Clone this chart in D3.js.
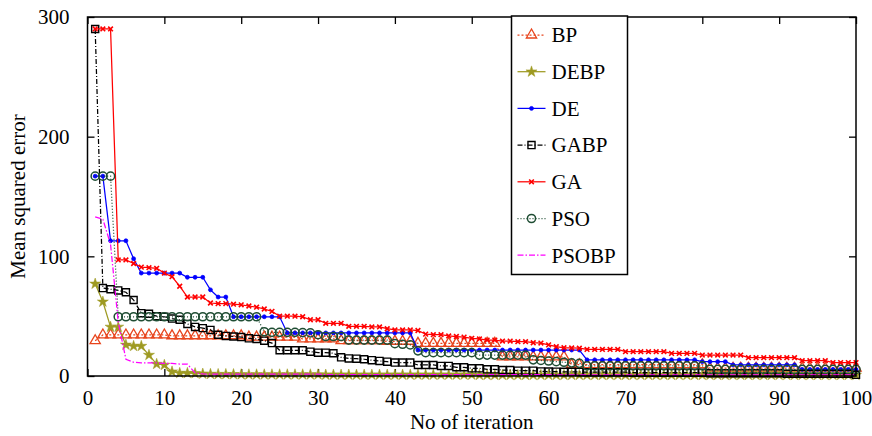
<!DOCTYPE html>
<html>
<head>
<meta charset="utf-8">
<script src="https://cdnjs.cloudflare.com/ajax/libs/d3/7.8.5/d3.min.js"></script>
<style>
    body { margin: 0; background: #fff; }
    text { font-family: "Liberation Serif", "Times New Roman", serif; font-size: 21px; fill: #000; }
</style>
</head>
<body>
<div id="chart"></div>
<script>
// iterations 1..100
var iterations = d3.range(1, 101);

var bpValues = [
    29.5, 34.3, 34.3, 34.3, 34.3, 34.3, 34.3, 34.3, 34.3, 34.3,
    33.6, 33.6, 33.6, 33.6, 33.6, 33.6, 33.6, 33.6, 33.6, 33.6,
    32.5, 32.5, 32.5, 32.5, 32.5, 32.5, 32.5, 31, 31, 31,
    31, 31, 29.5, 29.5, 29.5, 29.5, 29.5, 29.5, 29, 29,
    29, 29, 27.3, 27.3, 27.3, 27.3, 27.3, 27.3, 27.3, 27.3,
    27.3, 27.3, 27.3, 16, 16, 16, 16, 16, 16, 16,
    16, 16, 9.5, 9.5, 9.5, 9.5, 9.5, 9.5, 9.5, 9.5,
    9.5, 9.5, 9.5, 9.5, 9.5, 9.5, 9.5, 9.5, 9.5, 9.5,
    6.5, 6.5, 6.5, 6.5, 6.5, 6.5, 6.5, 6.5, 6.5, 6.5,
    6.5, 6.5, 6.5, 6.5, 6.5, 6.5, 6.5, 6.5, 6.5, 6.5
];

var debpValues = [
    77, 62, 41, 41, 26, 25, 25, 17.5, 10, 9.2,
    3.6, 2.4, 2.4, 2.2, 1.8, 1.6, 1.5, 1.5, 1.4, 1.3,
    1.2, 1.2, 1.2, 1.2, 1.2, 1.2, 1.2, 1.2, 1.2, 1.2,
    1, 1, 1, 1, 1, 1, 1, 1, 1, 1,
    1, 1, 1, 1, 1, 1, 1, 1, 1, 1,
    0.8, 0.8, 0.8, 0.8, 0.8, 0.8, 0.8, 0.8, 0.8, 0.8,
    0.8, 0.8, 0.8, 0.8, 0.8, 0.8, 0.8, 0.8, 0.8, 0.8,
    0.8, 0.8, 0.8, 0.8, 0.8, 0.8, 0.8, 0.8, 0.8, 0.8,
    0.8, 0.8, 0.8, 0.8, 0.8, 0.8, 0.8, 0.8, 0.8, 0.8,
    0.8, 0.8, 0.8, 0.8, 0.8, 0.8, 0.8, 0.8, 0.8, 0.8
];

var deValues = [
    167, 167, 113, 113, 113, 98, 86, 86, 86, 86,
    86, 86, 82.5, 82.5, 82.5, 72, 66, 66, 49.5, 49.5,
    49.5, 49.5, 49.5, 49.5, 49.5, 36, 36, 36, 36, 36,
    36, 36, 36, 36, 36, 36, 36, 36, 36, 36,
    36, 36, 21.7, 21.7, 21.7, 21.7, 21.7, 21.7, 21.7, 21.7,
    21.7, 21.7, 21.7, 21.7, 21.7, 21.7, 21.7, 21.7, 21.7, 21.7,
    21.7, 21.7, 21.7, 21.7, 13.5, 13.5, 13.5, 13.5, 13.5, 13.5,
    13.5, 13.5, 13.5, 13.5, 13.5, 13.5, 13.5, 13.5, 13.5, 12,
    12, 12, 12, 9.3, 9.3, 9.3, 9.3, 9.3, 9.3, 9.3,
    9.3, 9.3, 5.5, 5.5, 5.5, 5.5, 5.5, 5.5, 5.5, 5.5
];

var gabpValues = [
    290, 73.5, 72.5, 71.5, 70, 63.5, 52.5, 52, 50, 49.5,
    48, 47, 43.5, 41, 40, 38.5, 34.5, 33.5, 33, 32.5,
    31.5, 31, 29.5, 27.5, 21.5, 21.5, 21.5, 21.5, 20.3, 19.5,
    19.5, 19, 15.6, 14.7, 14.5, 14, 13.2, 12.6, 12, 11.2,
    11.2, 11.2, 9.2, 9.2, 9.2, 8.4, 8.4, 7.3, 7.3, 6.4,
    6.4, 5.6, 5.6, 5, 5, 4.5, 4.5, 4.5, 3.8, 3.7,
    3.6, 3.5, 3.5, 3.4, 3.2, 3.2, 3.2, 3.2, 3.2, 3.2,
    2.8, 2.8, 2.8, 2.8, 2.8, 2.8, 2.8, 2.8, 2.8, 2.8,
    2.3, 2.3, 2.3, 2.3, 2.3, 2.3, 2.3, 2.3, 2.3, 2.3,
    1.8, 1.8, 1.8, 1.8, 1.8, 1.8, 1.8, 1.8, 1.8, 1
];

var gaValues = [
    290, 290, 290, 97, 97, 94, 91, 90.5, 90, 86,
    83, 75, 66, 66, 66, 61, 60.5, 60.5, 60, 59.5,
    58.5, 57.5, 56, 54, 50, 50, 50, 49.5, 47, 47,
    44, 44, 44, 41.5, 41.5, 41.5, 41, 41, 39.5, 38.5,
    38.5, 38.5, 38, 35, 34.5, 34.5, 33.5, 33, 32.5, 31.5,
    31, 30, 30, 29.2, 29.2, 28.7, 28.7, 27.8, 27.5, 26,
    24.5, 23.6, 23.4, 23.2, 22.2, 22.2, 22.2, 22.2, 22.2, 20.3,
    20.3, 20.3, 20.3, 20.3, 20.3, 18.9, 18.9, 18.9, 18.9, 17.5,
    17.5, 17.5, 17.5, 17.5, 17.5, 15.3, 15.3, 15.3, 15.3, 15.3,
    15.3, 15.3, 12.8, 12.8, 12.8, 12.8, 11.2, 11.2, 11.2, 11.2
];

var psoValues = [
    167, 167, 167, 49.5, 49.5, 49.5, 49.5, 49.5, 49.5, 49.5,
    49.5, 49.5, 49.5, 49.5, 49.5, 49.5, 49.5, 49.5, 49.5, 49.5,
    49.5, 49.5, 37, 36.5, 36.5, 36.5, 36.5, 36.2, 36, 34.5,
    33, 33, 33, 30, 30, 30, 30, 30, 30, 27,
    26.5, 26, 21, 19.5, 19.5, 19.5, 19.5, 19.5, 19.5, 19.5,
    17.5, 17.5, 17.5, 17.5, 17.5, 17.5, 17.5, 13.5, 13, 12.5,
    12, 11.5, 11, 10.6, 8.5, 8.5, 8.5, 8.5, 8.5, 8.5,
    8.5, 8.5, 8.5, 8.5, 8.5, 8.5, 8.5, 8.5, 8.5, 8.5,
    5.5, 5.5, 5.5, 5.5, 5.5, 5.5, 5.5, 5.5, 5.5, 5.5,
    5.5, 5.5, 5.5, 5.5, 5.5, 5.5, 5.5, 5.5, 5.5, 5.5
];

var psobpValues = [
    133, 131, 110, 45, 14, 11.5, 11, 11, 11, 10.5,
    10.5, 10, 10, 2.5, 1.8, 1.5, 1.5, 1.5, 1.5, 1.5,
    1.5, 1.5, 1.5, 1.5, 1.5, 1.5, 1.5, 1.5, 1.5, 1.5,
    1.2, 1.2, 1.2, 1.2, 1.2, 1.2, 1.2, 1.2, 1.2, 1.2,
    1.2, 1.2, 1.2, 1.2, 1.2, 1.2, 1.2, 1.2, 1.2, 1.2,
    1.2, 1.2, 1.2, 1.2, 1.2, 1.2, 1.2, 1.2, 1.2, 1.2,
    1, 1, 1, 1, 1, 1, 1, 1, 1, 1,
    1, 1, 1, 1, 1, 1, 1, 1, 1, 1,
    1, 1, 1, 1, 1, 1, 1, 1, 1, 1,
    1, 1, 1, 1, 1, 1, 1, 1, 1, 1
];

var seriesNames = ["BP", "DEBP", "DE", "GABP", "GA", "PSO", "PSOBP"];
var xTicks = [0, 10, 20, 30, 40, 50, 60, 70, 80, 90, 100];
var yTicks = [0, 100, 200, 300];

var serif = "Liberation Serif, Times New Roman, serif";

// series styles (gnuplot look)
var styles = {
    BP:    {values: bpValues,    color: "#e8441c", dash: "2,2",       symbol: d3.symbolTriangle, size: 46, fill: "none", sw: 1.3},
    DEBP:  {values: debpValues,  color: "#9e9a22", dash: null,        symbol: d3.symbolStar,     size: 38, fill: "#9e9a22", sw: 0.5},
    DE:    {values: deValues,    color: "#0000ff", dash: null,        symbol: d3.symbolCircle,   size: 12, fill: "#0000ff", sw: 0.8},
    GABP:  {values: gabpValues,  color: "#000000", dash: "5,2,1,2",   symbol: d3.symbolSquare,   size: 50, fill: "none", sw: 1.4},
    GA:    {values: gaValues,    color: "#ff0000", dash: null,        symbol: d3.symbolTimes || d3.symbolCross, size: 16, fill: "none", sw: 1.6},
    PSO:   {values: psoValues,   color: "#1f4d33", dash: "1,2",       symbol: d3.symbolCircle,   size: 52, fill: "none", sw: 1.5},
    PSOBP: {values: psobpValues, color: "#ff00ff", dash: "6,2,1.5,2", symbol: null,              size: 0,  fill: "none", sw: 1}
};

var width = 872, height = 436,
    margin = {top: 17, left: 87.5},
    plotW = 856 - margin.left,
    plotH = 376 - margin.top;

var x = d3.scaleLinear().domain([0, 100]).range([0, plotW]),
    y = d3.scaleLinear().domain([0, 300]).range([plotH, 0]);

var svg = d3.select("#chart").append("svg")
    .attr("width", width).attr("height", height);

var g = svg.append("g")
    .attr("transform", "translate(" + margin.left + "," + margin.top + ")");

// axes with inward ticks on all four sides
var tickLen = 7;
g.append("g").attr("transform", "translate(0," + plotH + ")")
    .call(d3.axisBottom(x).tickValues(xTicks).tickSizeInner(-tickLen).tickSizeOuter(0).tickPadding(14));
g.append("g")
    .call(d3.axisTop(x).tickValues(xTicks).tickSizeInner(-tickLen).tickSizeOuter(0).tickFormat(""));
g.append("g")
    .call(d3.axisLeft(y).tickValues(yTicks).tickSizeInner(-tickLen).tickSizeOuter(0).tickPadding(18));
g.append("g").attr("transform", "translate(" + plotW + ",0)")
    .call(d3.axisRight(y).tickValues(yTicks).tickSizeInner(-tickLen).tickSizeOuter(0).tickFormat(""));

g.selectAll(".domain").remove();
g.selectAll(".tick line").attr("stroke", "#000").attr("stroke-width", 1.3);
g.selectAll(".tick").each(function() { d3.select(this.parentNode).attr("font-family", serif).attr("font-size", 21); });
g.selectAll(".tick text").attr("fill", "#000");

// draw series in legend order
seriesNames.forEach(name => {
    var s = styles[name];
    var data = iterations.map((it, i) => ({it: it, v: s.values[i]}));

    var line = d3.line().x(d => x(d.it)).y(d => y(d.v));
    g.append("path").datum(data)
        .attr("fill", "none")
        .attr("stroke", s.color)
        .attr("stroke-width", 1.25)
        .attr("stroke-dasharray", s.dash)
        .attr("d", line);

    if (s.symbol) {
        g.selectAll(".pt" + name).data(data).enter().append("path")
            .attr("class", "pt" + name)
            .attr("transform", d => "translate(" + x(d.it) + "," + y(d.v) + ")")
            .attr("d", d3.symbol(s.symbol, s.size))
            .attr("fill", s.fill)
            .attr("stroke", s.color)
            .attr("stroke-width", s.sw);
    }
});

// frame
g.append("rect")
    .attr("x", 0).attr("y", 0).attr("width", plotW).attr("height", plotH)
    .attr("fill", "none").attr("stroke", "#000").attr("stroke-width", 1.5);

// legend box
var legend = svg.append("g").attr("transform", "translate(511.5,16)");
legend.append("rect")
    .attr("x", 0).attr("y", 0).attr("width", 116).attr("height", 258.5)
    .attr("fill", "#fff").attr("stroke", "#000").attr("stroke-width", 1.5);

var legendItems = legend.selectAll(".item").data(seriesNames).enter().append("g")
    .attr("class", "item")
    .attr("transform", (d, i) => "translate(0," + (19 + i * 36.7) + ")");

legendItems.append("line")
    .attr("x1", 6).attr("x2", 34).attr("y1", 0).attr("y2", 0)
    .attr("stroke", d => styles[d].color)
    .attr("stroke-width", 1.25)
    .attr("stroke-dasharray", d => styles[d].dash);

legendItems.filter(d => styles[d].symbol).append("path")
    .attr("transform", "translate(20,0)")
    .attr("d", d => d3.symbol(styles[d].symbol, styles[d].size)())
    .attr("fill", d => styles[d].fill)
    .attr("stroke", d => styles[d].color)
    .attr("stroke-width", d => styles[d].sw);

legendItems.append("text")
    .attr("x", 40).attr("y", 0).attr("dy", "0.35em")
    .text(d => d);

// axis titles
svg.append("text")
    .attr("x", margin.left + plotW / 2).attr("y", 429)
    .attr("text-anchor", "middle")
    .text("No of iteration");

svg.append("text")
    .attr("transform", "translate(25," + (margin.top + plotH / 2) + ") rotate(-90)")
    .attr("text-anchor", "middle")
    .text("Mean squared error");
</script>
</body>
</html>
